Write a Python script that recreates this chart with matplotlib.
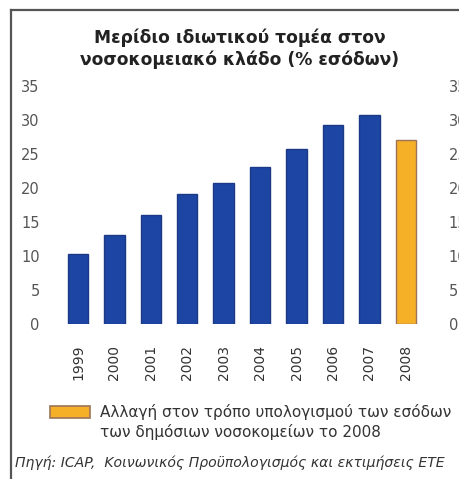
import matplotlib.pyplot as plt
from matplotlib.patches import Rectangle
from matplotlib.lines import Line2D

years = ['1999', '2000', '2001', '2002', '2003', '2004', '2005', '2006', '2007', '2008']
share = [10.3, 13.1, 16.0, 19.1, 20.8, 23.1, 25.8, 29.2, 30.7, 27.0]
yticks = [0, 5, 10, 15, 20, 25, 30, 35]

blue = '#1d45a3'
orange = '#f6b027'
colors = [blue] * 9 + [orange]
edges = ['#1a3a85'] * 9 + ['#9c7358']

W, H = 459, 479
fig = plt.figure(figsize=(W / 100, H / 100), dpi=100)
fig.patch.set_facecolor('white')

# axes placed in pixel terms
left_px, right_px, top_px, bot_px = 55, 435, 86, 324
ax = fig.add_axes([left_px / W, 1 - bot_px / H, (right_px - left_px) / W, (bot_px - top_px) / H])

x = list(range(len(years)))
ax.bar(x, share, width=0.56, color=colors, edgecolor=edges, linewidth=1.0)
ax.set_xlim(-0.63, 9.8)
ax.set_ylim(0, 35)
ax.set_yticks(yticks)
ax.set_xticks(x)
ax.set_xticklabels(years, rotation=90, fontsize=10, color='#333333')
ax.tick_params(axis='x', length=0, pad=15)
ax.tick_params(axis='y', length=0, pad=11, labelsize=10.5, labelcolor='#555555')
for s in ax.spines.values():
    s.set_visible(False)

ax2 = ax.twinx()
ax2.set_ylim(0, 35)
ax2.set_yticks(yticks)
ax2.tick_params(axis='y', length=0, pad=10, labelsize=10.5, labelcolor='#555555')
for s in ax2.spines.values():
    s.set_visible(False)

# title
fig.text(240 / W, 1 - 38 / H, 'Μερίδιο ιδιωτικού τομέα στον', ha='center', va='center',
         fontsize=12.3, fontweight='bold', color='#222222')
fig.text(240 / W, 1 - 60 / H, 'νοσοκομειακό κλάδο (% εσόδων)', ha='center', va='center',
         fontsize=12.3, fontweight='bold', color='#222222')

# legend box and text
fig.patches.append(Rectangle((50 / W, 1 - 418 / H), 40 / W, 12 / H, transform=fig.transFigure,
                             facecolor=orange, edgecolor='#9c7358', linewidth=1.2))
fig.text(100 / W, 1 - 412 / H, 'Αλλαγή στον τρόπο υπολογισμού των εσόδων', ha='left', va='center',
         fontsize=11, color='#333333')
fig.text(100 / W, 1 - 432 / H, 'των δημόσιων νοσοκομείων το 2008', ha='left', va='center',
         fontsize=11, color='#333333')

# source line
fig.text(15 / W, 1 - 463 / H, 'Πηγή: ICAP,  Κοινωνικός Προϋπολογισμός και εκτιμήσεις ΕΤΕ', ha='left',
         va='center', fontsize=10.1, style='italic', color='#333333')

# frame on left and top
fig.lines.append(Line2D([11 / W, 11 / W], [0, 1 - 10 / H], transform=fig.transFigure,
                        color='#555555', linewidth=1.6))
fig.lines.append(Line2D([11 / W, 1], [1 - 10 / H, 1 - 10 / H], transform=fig.transFigure,
                        color='#555555', linewidth=1.6))

fig.savefig('out.png', dpi=100, facecolor='white')
